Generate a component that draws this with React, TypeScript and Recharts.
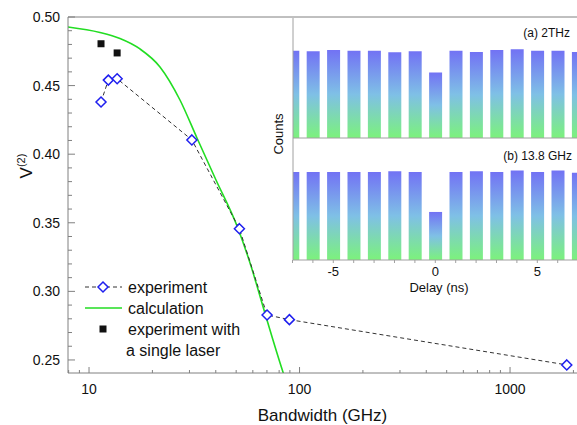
import React from 'react';
import {
  ComposedChart,
  Line,
  Scatter,
  XAxis,
  YAxis,
  ReferenceLine,
  Legend,
  BarChart,
  Bar,
} from 'recharts';

const FONT = '"Liberation Sans", Arial, Helvetica, sans-serif';
const AXIS = '#808080';
const INSET_AXIS = '#a0a0a0';
const TEXT = '#111';

// ---- main chart data ----
const expBandwidth = [11.4, 12.35, 13.6, 30.8, 51.8, 70.1, 89.5, 1860];
const expVisibility = [0.438, 0.454, 0.455, 0.4104, 0.3457, 0.2828, 0.2794, 0.2464];

const singleBandwidth = [11.4, 13.6];
const singleVisibility = [0.4805, 0.4738];

const calcBandwidth = [7.945, 11.27, 14.03, 17.46, 21.73, 27.04, 32.57, 40.1, 50.47, 58.8, 67.8, 83.4, 86.2];
const calcVisibility = [0.4927, 0.4887, 0.4843, 0.4767, 0.4636, 0.4395, 0.4118, 0.3812, 0.3477, 0.3185, 0.2864, 0.2413, 0.2347];

const xTicks = [8, 9, 10, 20, 30, 40, 50, 60, 70, 80, 90, 100, 200, 300, 400, 500, 600, 700, 800, 900, 1000, 2000];
const xMajor = [10, 100, 1000];
const yTicks = [
  0.25, 0.26, 0.27, 0.28, 0.29, 0.3, 0.31, 0.32, 0.33, 0.34, 0.35, 0.36, 0.37, 0.38, 0.39,
  0.4, 0.41, 0.42, 0.43, 0.44, 0.45, 0.46, 0.47, 0.48, 0.49, 0.5,
];
const yMajor = [0.25, 0.3, 0.35, 0.4, 0.45, 0.5];

// ---- inset data ----
const delays = [-7, -6, -5, -4, -3, -2, -1, 0, 1, 2, 3, 4, 5, 6, 7];
const countsA = [647, 642, 652, 647, 647, 635, 642, 486, 647, 637, 652, 657, 647, 647, 637];
const countsB = [652, 652, 652, 652, 652, 657, 652, 356, 652, 657, 652, 664, 652, 664, 647];
const delayLabels = [-5, 0, 5];
const countTicks = [100, 200, 300, 400, 500, 600, 700, 800];

const expData = expBandwidth.map((bw, i) => ({ bw, v: expVisibility[i] }));
const singleData = singleBandwidth.map((bw, i) => ({ bw, v: singleVisibility[i] }));
const calcData = calcBandwidth.map((bw, i) => ({ bw, v: calcVisibility[i] }));
const dataA = delays.map((d, i) => ({ d, c: countsA[i] }));
const dataB = delays.map((d, i) => ({ d, c: countsB[i] }));

const AXIS_X = 68;
const AXIS_Y = 373;

const XTick = (props: any) => {
  const { x, payload } = props;
  const val = payload.value;
  const major = xMajor.includes(val);
  return (
    <g>
      <line x1={x} x2={x} y1={AXIS_Y} y2={AXIS_Y - (major ? 6 : 3)} stroke={AXIS} />
      {major && (
        <text x={x} y={389} dy="0.355em" textAnchor="middle" fontSize={14} fill={TEXT} fontFamily={FONT}>
          {val}
        </text>
      )}
    </g>
  );
};

const YTick = (props: any) => {
  const { y, payload } = props;
  const val = payload.value;
  const major = yMajor.some((m) => Math.abs(m - val) < 1e-9);
  return (
    <g>
      <line x1={AXIS_X} x2={AXIS_X + (major ? 7 : 4)} y1={y} y2={y} stroke={AXIS} />
      {major && (
        <text x={60} y={y} dy="0.355em" textAnchor="end" fontSize={14} fill={TEXT} fontFamily={FONT}>
          {val.toFixed(2)}
        </text>
      )}
    </g>
  );
};

const VLabel = () => (
  <text transform="translate(32,166) rotate(-90)" x={0} y={0} textAnchor="middle" fontSize={17} fill={TEXT} fontFamily={FONT}>
    V
    <tspan fontSize={11} dy={-7}>(2)</tspan>
  </text>
);

const renderDiamond = (props: any) => {
  const { cx, cy, index } = props;
  if (cx == null || cy == null) return <g key={`dd-${index}`} />;
  const r = 5;
  return (
    <polygon
      key={`dd-${index}`}
      points={`${cx},${cy - r} ${cx + r},${cy} ${cx},${cy + r} ${cx - r},${cy}`}
      fill="#fff"
      stroke="#1f1fef"
      strokeWidth={1.5}
    />
  );
};

const renderSquare = (props: any) => {
  const { cx, cy } = props;
  const s = 7;
  return <rect x={cx - s / 2} y={cy - s / 2} width={s} height={s} fill="#111" />;
};

const LegendBox = () => (
  <svg width={220} height={90} style={{ overflow: 'visible' }}>
    <line x1={7} x2={44} y1={12} y2={12} stroke="#333" strokeDasharray="4 3" />
    <polygon points="25,7 30,12 25,17 20,12" fill="#fff" stroke="#1f1fef" strokeWidth={1.5} />
    <text x={50} y={12} dy="0.355em" fontSize={16} fill={TEXT} fontFamily={FONT}>experiment</text>
    <line x1={7} x2={44} y1={33} y2={33} stroke="#22dd22" strokeWidth={1.6} />
    <text x={50} y={33} dy="0.355em" fontSize={16} fill={TEXT} fontFamily={FONT}>calculation</text>
    <rect x={21.5} y={50.5} width={7} height={7} fill="#111" />
    <text x={50} y={54} dy="0.355em" fontSize={16} fill={TEXT} fontFamily={FONT}>experiment with</text>
    <text x={48} y={75} dy="0.355em" fontSize={16} fill={TEXT} fontFamily={FONT}>a single laser</text>
  </svg>
);

const DelayTick = (props: any) => {
  const { x, payload } = props;
  if (!delayLabels.includes(payload.value)) return <g />;
  return (
    <text x={x} y={133} dy="0.355em" textAnchor="middle" fontSize={13} fill={TEXT} fontFamily={FONT}>
      {payload.value}
    </text>
  );
};

const DelayLabel = () => (
  <text x={169} y={149} dy="0.355em" textAnchor="middle" fontSize={13} fill={TEXT} fontFamily={FONT}>
    Delay (ns)
  </text>
);

const Gradient = ({ id }: { id: string }) => (
  <defs>
    <linearGradient id={id} x1="0" y1="0" x2="0" y2="1">
      <stop offset="0%" stopColor="#7272f4" />
      <stop offset="50%" stopColor="#7fc0e6" />
      <stop offset="100%" stopColor="#7cf27c" />
    </linearGradient>
  </defs>
);

export default function App() {
  return (
    <div style={{ position: 'absolute', left: 0, top: 0, width: 577, height: 425, background: '#fff', overflow: 'hidden' }}>
      <ComposedChart width={577} height={425} margin={{ top: 17, right: 0, bottom: 0, left: 8 }}>
        <XAxis
          dataKey="bw"
          type="number"
          scale="log"
          domain={[7.945, 2080]}
          allowDataOverflow
          ticks={xTicks}
          interval={0}
          tick={<XTick />}
          tickLine={false}
          axisLine={{ stroke: AXIS }}
          height={52}
          label={{ value: 'Bandwidth (GHz)', position: 'insideBottom', offset: 4, fontSize: 17, fill: TEXT, fontFamily: FONT }}
        />
        <YAxis
          dataKey="v"
          type="number"
          domain={[0.2405, 0.5]}
          allowDataOverflow
          ticks={yTicks}
          interval={0}
          tick={<YTick />}
          tickLine={false}
          axisLine={{ stroke: AXIS }}
          width={60}
          label={<VLabel />}
        />
        <ReferenceLine y={0.5} stroke={AXIS} />
        <Line
          data={calcData}
          dataKey="v"
          type="monotone"
          stroke="#22dd22"
          strokeWidth={1.6}
          dot={false}
          isAnimationActive={false}
        />
        <Line
          data={expData}
          dataKey="v"
          type="linear"
          stroke="#333"
          strokeWidth={1}
          strokeDasharray="4 3"
          dot={renderDiamond}
          isAnimationActive={false}
        />
        <Scatter data={singleData} dataKey="v" shape={renderSquare} isAnimationActive={false} />
        <Legend
          layout="vertical"
          align="center"
          verticalAlign="middle"
          content={<LegendBox />}
          wrapperStyle={{ left: 78, top: 275, width: 220, height: 90 }}
        />
      </ComposedChart>

      <div style={{ position: 'absolute', left: 270, top: 18, width: 307, height: 282, background: '#fff' }}>
        <div style={{ position: 'absolute', left: 0, top: 0 }}>
          <BarChart width={307} height={124} data={dataA} margin={{ top: 0, right: 0, bottom: 0, left: 0 }} barSize={13}>
            <Gradient id="gradA" />
            <XAxis
              dataKey="d"
              type="number"
              domain={[-6.975, 6.946]}
              allowDataOverflow
              ticks={delays}
              interval={0}
              tick={false}
              tickSize={3}
              height={4}
              axisLine={{ stroke: INSET_AXIS }}
              tickLine={{ stroke: INSET_AXIS }}
            />
            <YAxis
              type="number"
              domain={[0, 889]}
              ticks={countTicks}
              interval={0}
              tick={false}
              tickSize={2}
              width={23}
              axisLine={{ stroke: INSET_AXIS }}
              tickLine={{ stroke: INSET_AXIS }}
            />
            <Bar dataKey="c" fill="url(#gradA)" isAnimationActive={false} />
          </BarChart>
        </div>
        <div style={{ position: 'absolute', left: 0, top: 120 }}>
          <BarChart width={307} height={160} data={dataB} margin={{ top: 0, right: 0, bottom: 0, left: 0 }} barSize={13}>
            <Gradient id="gradB" />
            <XAxis
              dataKey="d"
              type="number"
              domain={[-6.975, 6.946]}
              allowDataOverflow
              ticks={delays}
              interval={0}
              tick={<DelayTick />}
              tickSize={3}
              height={38}
              axisLine={{ stroke: INSET_AXIS }}
              tickLine={{ stroke: INSET_AXIS }}
              label={<DelayLabel />}
            />
            <YAxis
              type="number"
              domain={[0, 904]}
              ticks={countTicks}
              interval={0}
              tick={false}
              tickSize={2}
              width={23}
              axisLine={{ stroke: INSET_AXIS }}
              tickLine={{ stroke: INSET_AXIS }}
            />
            <Bar dataKey="c" fill="url(#gradB)" isAnimationActive={false} />
          </BarChart>
        </div>
        <svg width={307} height={282} style={{ position: 'absolute', left: 0, top: 0, pointerEvents: 'none' }}>
          <text x={300} y={14.7} dy="0.355em" textAnchor="end" fontSize={12} fill={TEXT} fontFamily={FONT}>(a) 2THz</text>
          <text x={302} y={137.7} dy="0.355em" textAnchor="end" fontSize={12} fill={TEXT} fontFamily={FONT}>(b) 13.8 GHz</text>
          <text transform="translate(8,116) rotate(-90)" x={0} y={0} dy="0.355em" textAnchor="middle" fontSize={13} fill={TEXT} fontFamily={FONT}>Counts</text>
        </svg>
      </div>
    </div>
  );
}
